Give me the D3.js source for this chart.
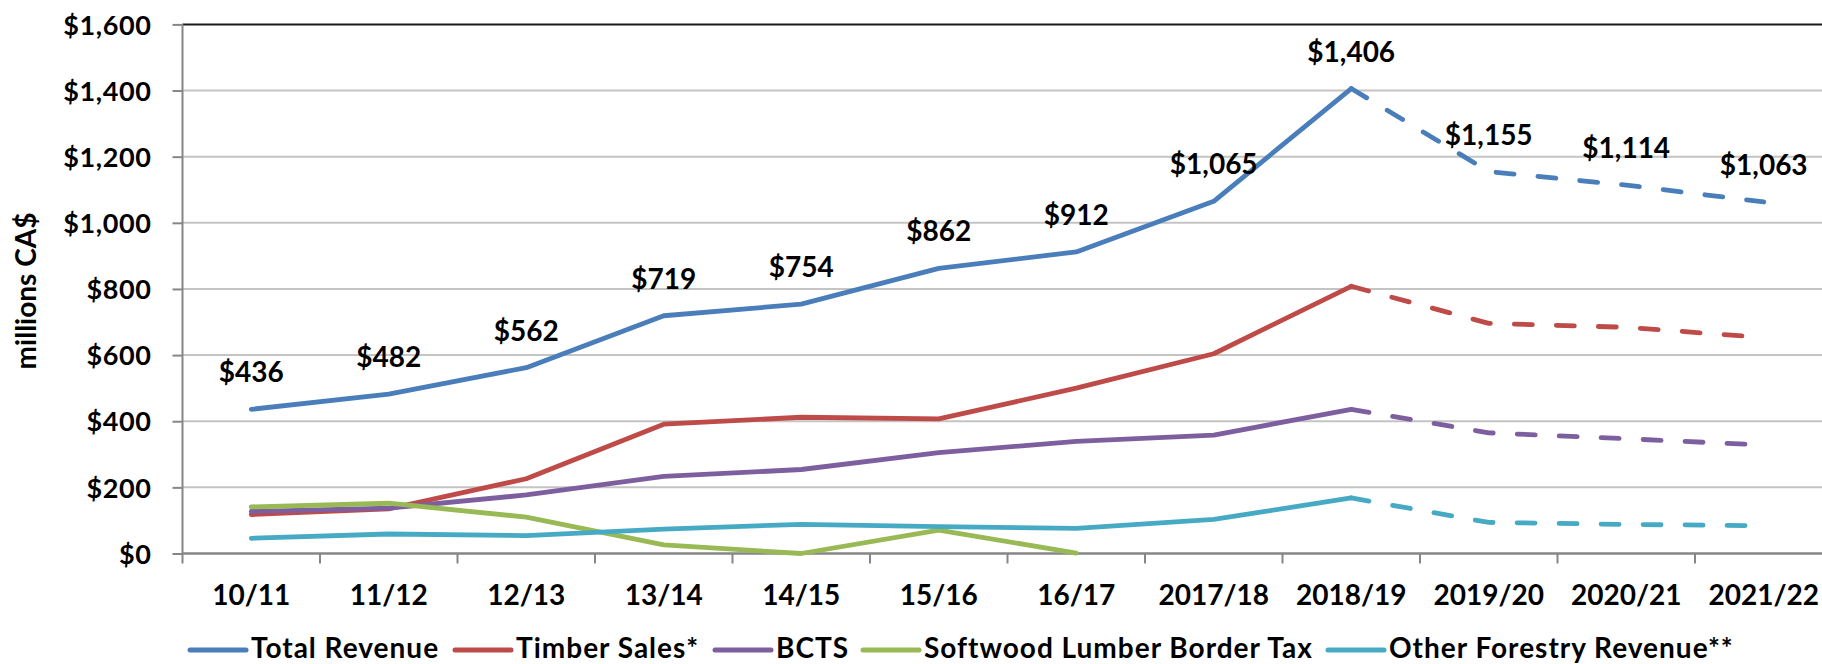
<!DOCTYPE html>
<html><head><meta charset="utf-8">
<script src="https://cdn.jsdelivr.net/npm/d3@7"></script>
<style>body{margin:0;background:#fff;}svg{display:block;}</style>
</head><body>
<svg id="chart" width="1822" height="664"></svg>
<script>
const categories = ["10/11","11/12","12/13","13/14","14/15","15/16","16/17","2017/18","2018/19","2019/20","2020/21","2021/22"];
const totalRevenue = [436,482,562,719,754,862,912,1065,1406,1155,1114,1063];
const timberSales = [118,135,226,391,412,407,500,604,808,696,684,653];
const bcts = [127,137,177,233,254,305,339,358,436,365,347,328];
const softwoodTax = [141,152,110,26,0,71,1,null,null,null,null,null];
const otherForestry = [46,59,54,74,88,81,76,103,168,94,88,84];
const totalLabels = ["$436","$482","$562","$719","$754","$862","$912","$1,065","$1,406","$1,155","$1,114","$1,063"];
const yTicks = [0,200,400,600,800,1000,1200,1400,1600];
const projectionStart = "2018/19";

const seriesNames = ["Total Revenue","Timber Sales*","BCTS","Softwood Lumber Border Tax","Other Forestry Revenue**"];
const seriesColors = ["#4A7EBB","#BE4B48","#7D5FA0","#98B954","#46AAC5"];
const seriesValues = [totalRevenue,timberSales,bcts,softwoodTax,otherForestry];

(function(){
const svg = d3.select("#chart");
const FONT = "Lato, 'Open Sans', sans-serif";
const pLeft = 182.5, pTop = 24.4, pBottom = 553.5, bandW = 137.5;
const x = d3.scaleBand().domain(categories).range([pLeft, pLeft + bandW*categories.length]).padding(0);
const y = d3.scaleLinear().domain([0,1600]).range([pBottom, pTop]);
const cx = c => x(c) + x.bandwidth()/2;

// gridlines
svg.append("g").selectAll("line").data(yTicks.filter(t=>t>0)).join("line")
  .attr("x1", pLeft).attr("x2", 1822)
  .attr("y1", d=>y(d)).attr("y2", d=>y(d))
  .attr("stroke", d=> d===1600 ? "#1a1a1a" : "#C4C4C4")
  .attr("stroke-width", 2);

// y axis
const yAxis = svg.append("g").attr("transform", `translate(${pLeft},0)`)
  .call(d3.axisLeft(y).tickValues(yTicks).tickSize(10).tickFormat(d=>"$"+d3.format(",")(d)));
yAxis.select(".domain").remove();
yAxis.selectAll(".tick line").attr("stroke","#868686").attr("stroke-width",2);
yAxis.selectAll(".tick text").attr("x",-31).attr("dy","0.36em")
  .attr("font-family",FONT).attr("font-weight","bold").attr("font-size","27px")
  .attr("letter-spacing","0.6px").attr("fill","#000");
svg.append("line").attr("x1",pLeft).attr("x2",pLeft).attr("y1",pTop).attr("y2",pBottom+10)
  .attr("stroke","#868686").attr("stroke-width",2);

// x axis
const xAxis = svg.append("g").attr("transform", `translate(0,${pBottom})`)
  .call(d3.axisBottom(x).tickSize(0).tickSizeOuter(0));
xAxis.select(".domain").remove();
xAxis.selectAll(".tick text").attr("y",51.5).attr("dy",0)
  .attr("font-family",FONT).attr("font-weight","bold").attr("font-size","28px").attr("fill","#000");
svg.append("line").attr("x1",pLeft).attr("x2",1822).attr("y1",pBottom).attr("y2",pBottom)
  .attr("stroke","#868686").attr("stroke-width",2.5);
svg.append("g").selectAll("line").data(categories.slice(1)).join("line")
  .attr("x1",d=>x(d)).attr("x2",d=>x(d)).attr("y1",pBottom).attr("y2",pBottom+10)
  .attr("stroke","#868686").attr("stroke-width",2);

// y title
svg.append("text").attr("transform","translate(36,291) rotate(-90)")
  .attr("text-anchor","middle").attr("font-family",FONT).attr("font-weight","bold")
  .attr("font-size","28px").text("millions CA$");

// lines
const line = d3.line().defined(d=>d.v!=null).x(d=>cx(d.c)).y(d=>y(d.v));
const pIdx = categories.indexOf(projectionStart);
seriesValues.forEach((vals,i)=>{
  const pts = categories.map((c,j)=>({c, v: vals[j]}));
  const solid = pts.slice(0, pIdx+1);
  const dashed = pts.slice(pIdx);
  svg.append("path").datum(solid).attr("d", line).attr("fill","none")
    .attr("stroke", seriesColors[i]).attr("stroke-width",4.8).attr("stroke-linejoin","round").attr("stroke-linecap","round");
  if (dashed.some(d=>d.v!=null)) {
    svg.append("path").datum(dashed).attr("d", line).attr("fill","none")
      .attr("stroke", seriesColors[i]).attr("stroke-width",4.8).attr("stroke-linejoin","round")
      .attr("stroke-linecap","round").attr("stroke-dasharray","18,24");
  }
});

// data labels
svg.append("g").selectAll("text").data(categories).join("text")
  .attr("x", d=>cx(d)).attr("y", (d,i)=>y(totalRevenue[i]) - 27)
  .attr("text-anchor","middle").attr("font-family",FONT).attr("font-weight","bold")
  .attr("font-size","28px").attr("fill","#000").text((d,i)=>totalLabels[i]);

// legend
const legendX = [190, 455, 715, 863, 1328];
const lg = svg.append("g");
seriesNames.forEach((n,i)=>{
  lg.append("line").attr("x1",legendX[i]).attr("x2",legendX[i]+56).attr("y1",650).attr("y2",650)
    .attr("stroke",seriesColors[i]).attr("stroke-width",5).attr("stroke-linecap","round");
  lg.append("text").attr("x",legendX[i]+61).attr("y",658).attr("font-family",FONT).attr("font-weight","bold")
    .attr("font-size","28px").attr("letter-spacing","1px").attr("fill","#000").text(n);
});
})();
</script>
</body></html>
